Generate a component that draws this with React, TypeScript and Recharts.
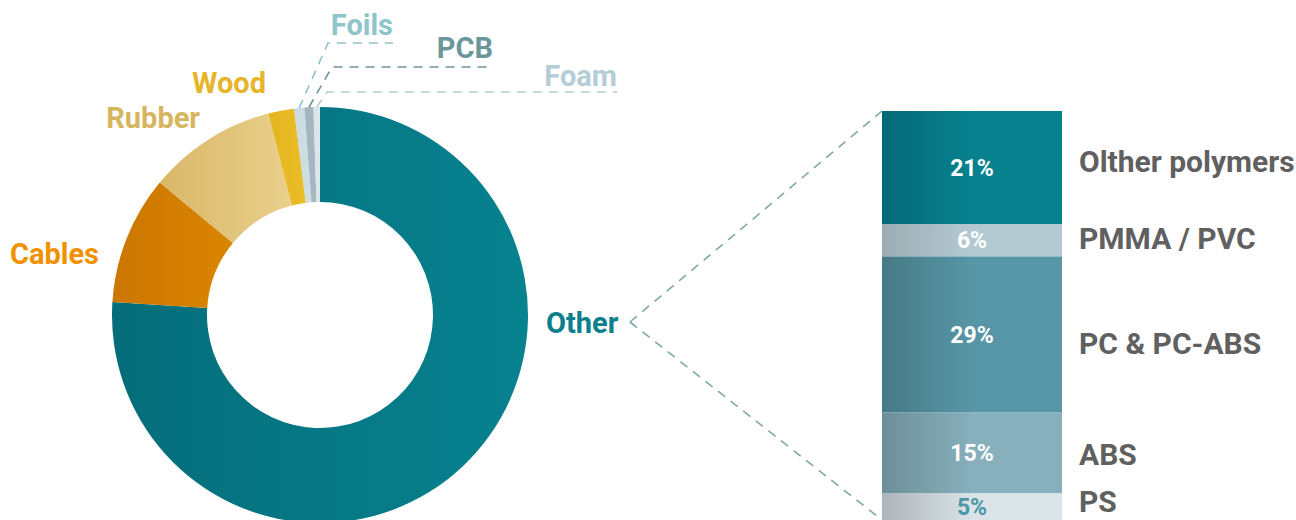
import { Bar, BarChart, Cell, LabelList, Pie, PieChart, XAxis, YAxis } from "recharts";

// material shares of the whole device
const pieNames = ["Other", "Cables", "Rubber", "Wood", "Foils", "PCB", "Foam"];
const pieValues = [76, 10, 10, 2, 0.8, 0.7, 0.5];

// breakdown of "Other" into polymers (bottom to top of the stack)
const polymerKeys = ["ps", "abs", "pc", "pmma", "other"];
const polymerNames = ["PS", "ABS", "PC & PC-ABS", "PMMA / PVC", "Olther polymers"];
const polymerValues = [5, 15, 29, 6, 21];

const pieData = pieNames.map((name, i) => ({ name, value: pieValues[i] }));
const barRow = [
  {
    group: "Other",
    ...Object.fromEntries(polymerKeys.map((k, i) => [k, polymerValues[i]])),
  },
];

const W = 1296;
const H = 520;
const PIE_CX = 320;
const PIE_CY = 315;
const FONT = "Roboto, 'Noto Sans', sans-serif";

// slice gradients: [left, right]
const sliceFills: Record<string, [string, string]> = {
  Other: ["#056d7a", "#07828f"],
  Cables: ["#cb7600", "#da8500"],
  Rubber: ["#d9b769", "#e9d08b"],
  Wood: ["#e4b41f", "#eabe28"],
  Foils: ["#cadae0", "#cfdee3"],
  PCB: ["#a2b4bc", "#a7b8c0"],
  Foam: ["#dae3e7", "#dde6e9"],
};

const labelColors: Record<string, string> = {
  Other: "#0a808d",
  Cables: "#f29100",
  Rubber: "#d7b55f",
  Wood: "#e5b52a",
  Foils: "#8fc4ca",
  PCB: "#6b979c",
  Foam: "#b4cdd6",
};

// label placement relative to the pie centre
type Spot = {
  dx: number;
  dy: number;
  anchor?: "start" | "end";
  lineEnd?: number;
  gap?: number;
};
const labelSpots: Record<string, Spot> = {
  Other: { dx: 226, dy: 18, anchor: "start" },
  Cables: { dx: -221, dy: -51, anchor: "end" },
  Rubber: { dx: -120, dy: -187, anchor: "end" },
  Wood: { dx: -54, dy: -222, anchor: "end" },
  Foils: { dx: 8, dy: -272, lineEnd: 73, gap: 8 },
  PCB: { dx: 12, dy: -248, lineEnd: 173, gap: 9 },
  Foam: { dx: 7, dy: -223, lineEnd: 297, gap: 6 },
};

// polymer bar gradients: [left, right]
const barFills: Record<string, [string, string]> = {
  other: ["#046a77", "#07818e"],
  pmma: ["#9eadb4", "#b3c9d1"],
  pc: ["#467a86", "#5796a6"],
  abs: ["#6d8f99", "#87afbc"],
  ps: ["#adb5b9", "#d9e3e8"],
};

// vertical nudges for the names to the right of the bar
const nameNudge: Record<string, number> = { other: -6, pmma: -2, pc: 9, abs: 1, ps: -5 };

const hub = { x: PIE_CX + 310, y: PIE_CY + 7 };
const RAD = Math.PI / 180;

function renderPieLabel(props: any) {
  const { cx, cy, midAngle, outerRadius, index } = props;
  const name = pieNames[index];
  const spot = labelSpots[name];
  const color = labelColors[name];
  const textStyle = { fontFamily: FONT, fontWeight: 700, fontSize: 29 };
  if (spot.lineEnd !== undefined) {
    const sx = cx + outerRadius * Math.cos(-midAngle * RAD);
    const sy = cy + outerRadius * Math.sin(-midAngle * RAD);
    const ex = cx + spot.dx;
    const ey = cy + spot.dy;
    const endX = cx + spot.lineEnd;
    return (
      <g>
        <polyline
          points={`${sx},${sy} ${ex},${ey} ${endX},${ey}`}
          fill="none"
          stroke={color}
          strokeWidth={1.6}
          strokeDasharray="9 7"
        />
        <text x={endX} y={ey - (spot.gap ?? 8)} textAnchor="end" fill={color} style={textStyle}>
          {name}
        </text>
      </g>
    );
  }
  return (
    <text x={cx + spot.dx} y={cy + spot.dy} textAnchor={spot.anchor} fill={color} style={textStyle}>
      {name}
    </text>
  );
}

function makeShape(key: string) {
  return (props: any) => {
    const { x, y, width, height, fill } = props;
    let leader = null;
    if (key === "other") {
      leader = <line x1={hub.x} y1={hub.y} x2={x} y2={y} />;
    } else if (key === "ps") {
      leader = <line x1={hub.x} y1={hub.y} x2={x} y2={y + height} />;
    }
    return (
      <g>
        <rect x={x} y={y} width={width} height={height} fill={fill} />
        {leader && (
          <g stroke="#7fa8aa" strokeWidth={1.6} strokeDasharray="9 7">
            {leader}
          </g>
        )}
      </g>
    );
  };
}

function makeSegmentLabel(key: string, index: number) {
  return (props: any) => {
    const { x, y, width, height, value } = props;
    const midY = y + height / 2;
    return (
      <g style={{ fontFamily: FONT, fontWeight: 700 }}>
        <text
          x={x + width / 2}
          y={midY}
          dy="0.36em"
          textAnchor="middle"
          fill={key === "ps" ? "#4b97a4" : "#ffffff"}
          fontSize={23}
        >
          {`${value}%`}
        </text>
        <text x={x + width + 17} y={midY + nameNudge[key]} dy="0.36em" fill="#606060" fontSize={30}>
          {polymerNames[index]}
        </text>
      </g>
    );
  };
}

export default function App() {
  return (
    <div
      style={{
        position: "absolute",
        left: 0,
        top: 0,
        width: W,
        height: H,
        overflow: "hidden",
        background: "#ffffff",
      }}
    >
      <div style={{ position: "absolute", left: 0, top: 0 }}>
        <PieChart width={W} height={H} margin={{ top: 0, right: 0, bottom: 0, left: 0 }}>
          <defs>
            {pieNames.map((n) => (
              <linearGradient key={n} id={`slice-${n}`} x1="0" y1="0" x2="1" y2="0">
                <stop offset="0" stopColor={sliceFills[n][0]} />
                <stop offset="1" stopColor={sliceFills[n][1]} />
              </linearGradient>
            ))}
          </defs>
          <Pie
            data={pieData}
            dataKey="value"
            nameKey="name"
            cx={PIE_CX}
            cy={PIE_CY}
            innerRadius={113}
            outerRadius={208}
            startAngle={90}
            endAngle={-270}
            stroke="none"
            label={renderPieLabel}
            labelLine={false}
            isAnimationActive={false}
          >
            {pieData.map((d) => (
              <Cell key={d.name} fill={`url(#slice-${d.name})`} />
            ))}
          </Pie>
        </PieChart>
      </div>
      <div style={{ position: "absolute", left: 0, top: 0 }}>
        <BarChart
          width={W}
          height={H}
          data={barRow}
          margin={{ top: 111, right: 234, bottom: 0, left: 882 }}
          barCategoryGap={0}
        >
          <defs>
            {polymerKeys.map((k) => (
              <linearGradient key={k} id={`bar-${k}`} x1="0" y1="0" x2="1" y2="0">
                <stop offset="0" stopColor={barFills[k][0]} />
                <stop offset="0.5" stopColor={barFills[k][1]} />
                <stop offset="1" stopColor={barFills[k][1]} />
              </linearGradient>
            ))}
          </defs>
          <XAxis dataKey="group" hide />
          <YAxis type="number" domain={[0, "dataMax"]} hide />
          {polymerKeys.map((k, i) => (
            <Bar
              key={k}
              dataKey={k}
              stackId="polymers"
              fill={`url(#bar-${k})`}
              shape={makeShape(k)}
              isAnimationActive={false}
            >
              <LabelList dataKey={k} content={makeSegmentLabel(k, i)} />
            </Bar>
          ))}
        </BarChart>
      </div>
    </div>
  );
}
